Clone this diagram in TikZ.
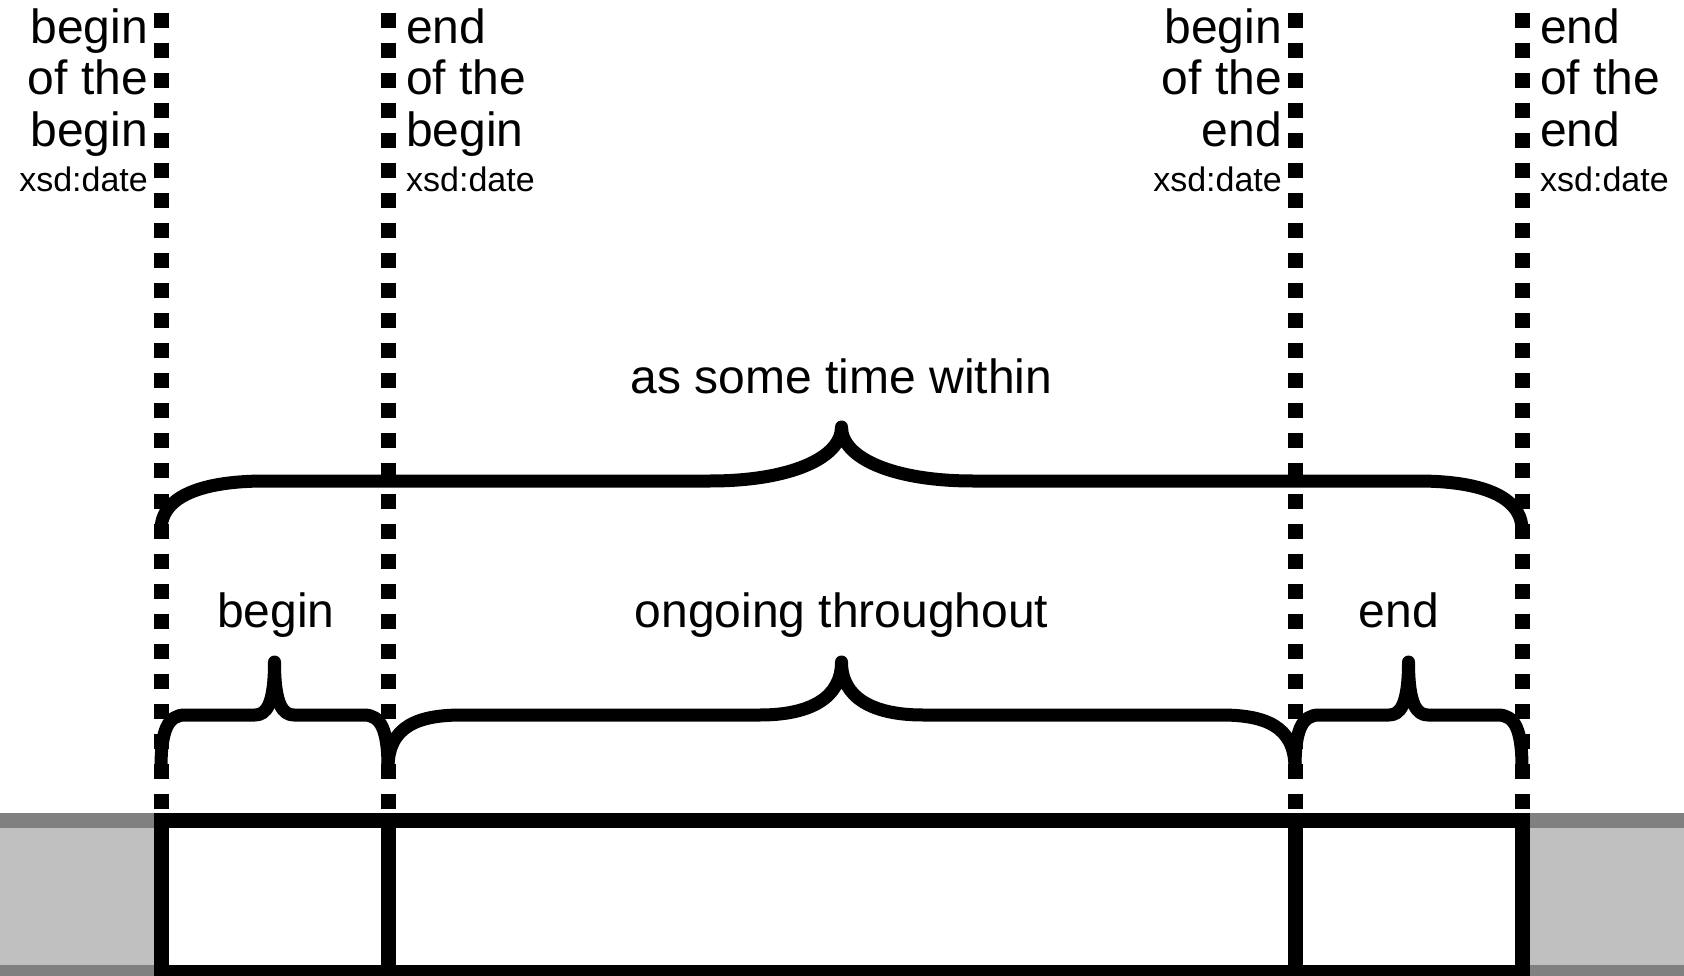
\documentclass[tikz,border=0pt]{standalone}
\usepackage{fontspec}
\setmainfont{Liberation Sans}
\definecolor{bandlight}{HTML}{C0C0C0}
\definecolor{banddark}{HTML}{808080}
\begin{document}
\begin{tikzpicture}[x=1pt,y=-1pt,
  big/.style={font=\fontsize{48}{52}\selectfont, inner sep=0pt},
  small/.style={font=\fontsize{34}{40}\selectfont, inner sep=0pt},
  bracestroke/.style={draw=black, line width=13pt, line join=round, line cap=butt},
  dotline/.style={draw=black, line width=15pt, dash pattern=on 15pt off 15.05pt},
  frame/.style={draw=black, line width=15pt, fill=white},
  divider/.style={draw=black, line width=15pt}]
\useasboundingbox (0,0) rectangle (1684,976);

% grey band
\fill[bandlight] (-30,820.8) rectangle (1714,1000);
\draw[banddark, line width=15pt] (-30,820.8) -- (1714,820.8);
\draw[banddark, line width=15pt] (-30,972.5) -- (1714,972.5);

% time line box
\coordinate (bl) at (161,972.5);
\coordinate (tr) at (1522,820.8);
\draw[frame] (bl) rectangle (tr);
\coordinate (d1t) at (388,820.8); \coordinate (d1b) at (388,972.5);
\coordinate (d2t) at (1295,820.8); \coordinate (d2b) at (1295,972.5);
\draw[divider] (d1t) -- (d1b);
\draw[divider] (d2t) -- (d2b);

% dotted lines
\coordinate (v1a) at (161,12.7);  \coordinate (v1b) at (161,809);
\coordinate (v2a) at (388,12.7);  \coordinate (v2b) at (388,809);
\coordinate (v3a) at (1295,12.7); \coordinate (v3b) at (1295,809);
\coordinate (v4a) at (1522,12.7); \coordinate (v4b) at (1522,809);
\draw[dotline] (v1a) -- (v1b);
\draw[dotline] (v2a) -- (v2b);
\draw[dotline] (v3a) -- (v3b);
\draw[dotline] (v4a) -- (v4b);

% big brace
\draw[bracestroke] (161,530) .. controls (161,495) and (205,481) .. (265,481)
  -- (710,481) .. controls (790,481) and (841.5,458) .. (841.5,427)
  .. controls (841.5,458) and (893,481) .. (973,481)
  -- (1418,481) .. controls (1478,481) and (1522,495) .. (1522,530);

% begin brace
\draw[bracestroke] (161,768) .. controls (161,730) and (168,715) .. (185,715)
  -- (255,715) .. controls (266,715) and (274.5,705) .. (274.5,662)
  .. controls (274.5,705) and (283,715) .. (294,715)
  -- (364,715) .. controls (381,715) and (388,730) .. (388,768);

% ongoing brace
\draw[bracestroke] (388,768) .. controls (388,725) and (420,715) .. (462,715)
  -- (760,715) .. controls (810,715) and (841.5,698) .. (841.5,662)
  .. controls (841.5,698) and (873,715) .. (923,715)
  -- (1221,715) .. controls (1263,715) and (1295,725) .. (1295,768);

% end brace
\draw[bracestroke] (1295,768) .. controls (1295,730) and (1302,715) .. (1319,715)
  -- (1389,715) .. controls (1400,715) and (1408.5,705) .. (1408.5,662)
  .. controls (1408.5,705) and (1417,715) .. (1428,715)
  -- (1498,715) .. controls (1515,715) and (1522,730) .. (1522,768);

% brace labels
\node[big, anchor=base] (within) at (841.5,393) {as some time within};
\node[big, anchor=base] (lbegin) at (276,627) {begin};
\node[big, anchor=base] (longoing) at (841.5,627) {ongoing throughout};
\node[big, anchor=base] (lend) at (1399,627) {end};

% top labels: begin of the begin
\node[big, anchor=base east] (a1) at (148,43.5) {begin};
\node[big, anchor=base east] (a2) at (148,95) {of the};
\node[big, anchor=base east] (a3) at (148,147) {begin};
\node[small, anchor=base east] (a4) at (148,192) {xsd:date};
% end of the begin
\node[big, anchor=base west] (b1) at (406,43.5) {end};
\node[big, anchor=base west] (b2) at (406,95) {of the};
\node[big, anchor=base west] (b3) at (406,147) {begin};
\node[small, anchor=base west] (b4) at (406,192) {xsd:date};
% begin of the end
\node[big, anchor=base east] (c1) at (1282,43.5) {begin};
\node[big, anchor=base east] (c2) at (1282,95) {of the};
\node[big, anchor=base east] (c3) at (1282,147) {end};
\node[small, anchor=base east] (c4) at (1282,192) {xsd:date};
% end of the end
\node[big, anchor=base west] (e1) at (1540,43.5) {end};
\node[big, anchor=base west] (e2) at (1540,95) {of the};
\node[big, anchor=base west] (e3) at (1540,147) {end};
\node[small, anchor=base west] (e4) at (1540,192) {xsd:date};
\end{tikzpicture}
\end{document}
